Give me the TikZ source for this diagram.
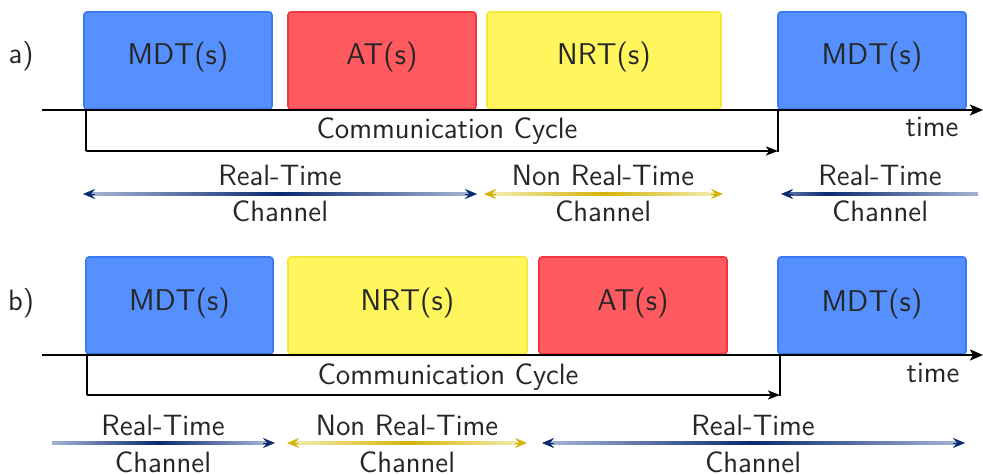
\documentclass[tikz,border=0pt]{standalone}
\usetikzlibrary{arrows.meta}
\definecolor{mdtfill}{HTML}{5590FE}
\definecolor{mdtline}{HTML}{3A7AF0}
\definecolor{atfill}{HTML}{FF5A60}
\definecolor{atline}{HTML}{F2343E}
\definecolor{nrtfill}{HTML}{FFF55C}
\definecolor{nrtline}{HTML}{F5E83C}
\definecolor{txt}{HTML}{262626}
\definecolor{rtdark}{HTML}{0A2A70}
\definecolor{rtlight}{HTML}{A3B3D3}
\definecolor{nrtdark}{HTML}{D4B40A}
\definecolor{nrtlight}{HTML}{F3EBAE}
\begin{document}
\begin{tikzpicture}[x=0.5pt,y=-0.5pt,font=\sffamily,text=txt,
  slot/.style={draw,line width=0.8pt,rounded corners=1.5pt,minimum height=48.5pt,inner sep=0pt},
  mdt/.style={slot,fill=mdtfill,draw=mdtline,minimum width=94pt},
  atb/.style={slot,fill=atfill,draw=atline,minimum width=94pt},
  nrtb/.style={slot,fill=nrtfill,draw=nrtline},
  boxtext/.style={anchor=base,font=\sffamily\fontsize{15}{18}\selectfont,inner sep=0pt},
  lbl/.style={anchor=base,font=\sffamily\fontsize{14.7}{17}\selectfont,inner sep=0pt},
  axisline/.style={line width=1pt,-{Stealth[length=6.5pt,width=5.5pt,inset=1.5pt]}},
  cycline/.style={line width=1pt},
  cyctip/.style={line width=1pt,-{Stealth[length=6pt,width=4.5pt,inset=1.5pt]}},
  rttip/.style={rtdark,line width=0.2pt,-{Stealth[length=6pt,width=5pt,inset=2pt]}},
  nrttip/.style={nrtdark,line width=0.2pt,-{Stealth[length=6pt,width=5pt,inset=2pt]}}]
\useasboundingbox (0,0) rectangle (983,475);

% ---------------- row a ----------------
\node[lbl] (la) at (21,64) {a)};
\node[mdt] (a1) at (178,60.5) {};
\node[atb] (a2) at (382,60.5) {};
\node[nrtb,minimum width=117pt] (a3) at (604,60.5) {};
\node[mdt] (a4) at (872,60.5) {};
\node[boxtext] (a1t) at (a1.center |- 0,65) {MDT(s)};
\node[boxtext] (a2t) at (a2.center |- 0,65) {AT(s)};
\node[boxtext] (a3t) at (a3.center |- 0,65) {NRT(s)};
\node[boxtext] (a4t) at (a4.center |- 0,65) {MDT(s)};

\coordinate (axa0) at (42,110);
\coordinate (axa1) at (983,110);
\draw[axisline] (axa0) -- (axa1);

\coordinate (ca0) at (86,110);
\coordinate (ca1) at (86,151);
\coordinate (ca2) at (778,151);
\coordinate (ca3) at (778,110);
\coordinate (ca4) at (778,152);
\draw[cycline] (ca0) -- (ca1);
\draw[cyctip] (ca1) -- (ca2);
\draw[cycline] (ca3) -- (ca4);
\node[lbl] (cyca) at (447,139) {Communication Cycle};
\node[lbl] (tima) at (932,137) {time};

% channels of row a
\shade[left color=rtlight,right color=rtlight,middle color=rtdark] (92,192.5) rectangle (468,195.5);
\coordinate (ra0) at (83,194);
\coordinate (ra1) at (477,194);
\draw[rttip] (95,194) -- (ra0);
\draw[rttip] (465,194) -- (ra1);
\node[lbl] (ra0t) at (280,186) {Real-Time};
\node[lbl] (ra1t) at (280,222) {Channel};

\shade[left color=nrtlight,right color=nrtlight,middle color=nrtdark] (493,192.5) rectangle (714,195.5);
\coordinate (na0) at (484,194);
\coordinate (na1) at (723,194);
\draw[nrttip] (496,194) -- (na0);
\draw[nrttip] (711,194) -- (na1);
\node[lbl] (na0t) at (603,186) {Non Real-Time};
\node[lbl] (na1t) at (603,222) {Channel};

\shade[left color=rtlight!50!rtdark,right color=rtdark] (790,192.5) rectangle (826,195.5);
\shade[left color=rtdark,right color=rtlight] (826,192.5) rectangle (978,195.5);
\coordinate (rc0) at (781,194);
\draw[rttip] (793,194) -- (rc0);
\node[lbl] (rc0t) at (880,186) {Real-Time};
\node[lbl] (rc1t) at (880,222) {Channel};

% ---------------- row b ----------------
\node[lbl] (lb) at (21,310) {b)};
\node[mdt,minimum width=93.5pt] (b1) at (179.5,305.5) {};
\node[nrtb,minimum width=119.5pt] (b2) at (407.5,305.5) {};
\node[atb] (b3) at (633,305.5) {};
\node[mdt] (b4) at (872,305.5) {};
\node[boxtext] (b1t) at (b1.center |- 0,310) {MDT(s)};
\node[boxtext] (b2t) at (b2.center |- 0,310) {NRT(s)};
\node[boxtext] (b3t) at (b3.center |- 0,310) {AT(s)};
\node[boxtext] (b4t) at (b4.center |- 0,311) {MDT(s)};

\coordinate (axb0) at (42,355);
\coordinate (axb1) at (983,355);
\draw[axisline] (axb0) -- (axb1);

\coordinate (cb0) at (87,355);
\coordinate (cb1) at (87,395);
\coordinate (cb2) at (780,395);
\coordinate (cb3) at (780,355);
\coordinate (cb4) at (780,396);
\draw[cycline] (cb0) -- (cb1);
\draw[cyctip] (cb1) -- (cb2);
\draw[cycline] (cb3) -- (cb4);
\node[lbl] (cycb) at (448,384) {Communication Cycle};
\node[lbl] (timb) at (933,382) {time};

% channels of row b
\shade[left color=rtlight,right color=rtlight,middle color=rtdark] (52,441.5) rectangle (266,444.5);
\coordinate (rb1) at (275,443);
\draw[rttip] (263,443) -- (rb1);
\node[lbl] (rb0t) at (163,435) {Real-Time};
\node[lbl] (rb1t) at (163,472) {Channel};

\shade[left color=nrtlight,right color=nrtlight,middle color=nrtdark] (296,441.5) rectangle (518,444.5);
\coordinate (nb0) at (287,443);
\coordinate (nb1) at (527,443);
\draw[nrttip] (299,443) -- (nb0);
\draw[nrttip] (515,443) -- (nb1);
\node[lbl] (nb0t) at (407,435) {Non Real-Time};
\node[lbl] (nb1t) at (407,472) {Channel};

\shade[left color=rtlight,right color=rtlight,middle color=rtdark] (551,441.5) rectangle (956,444.5);
\coordinate (sb0) at (542,443);
\coordinate (sb1) at (965,443);
\draw[rttip] (554,443) -- (sb0);
\draw[rttip] (953,443) -- (sb1);
\node[lbl] (sb0t) at (753,435) {Real-Time};
\node[lbl] (sb1t) at (753,472) {Channel};
\end{tikzpicture}
\end{document}
